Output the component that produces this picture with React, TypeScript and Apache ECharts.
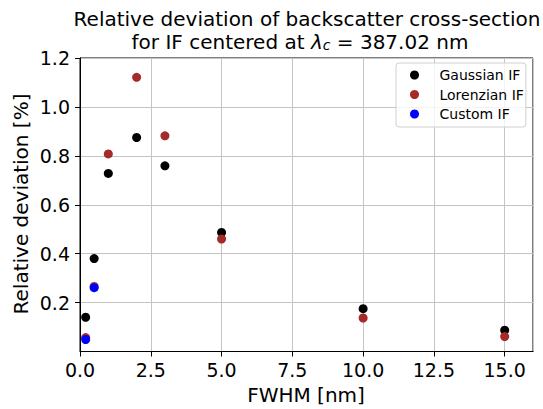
import React, { useEffect, useRef } from "react";
import * as echarts from "echarts";

const FONT = "DejaVu Sans";

const gaussianX = [0.2, 0.5, 1, 2, 3, 5, 10, 15];
const gaussianY = [0.14, 0.38, 0.728, 0.875, 0.759, 0.487, 0.175, 0.087];
const lorenzianX = [0.2, 0.5, 1, 2, 3, 5, 10, 15];
const lorenzianY = [0.057, 0.266, 0.808, 1.121, 0.882, 0.46, 0.137, 0.061];
const customX = [0.2, 0.5];
const customY = [0.049, 0.261];

const seriesNames = ["Gaussian IF", "Lorenzian IF", "Custom IF"];
const seriesColors = ["#000000", "#a52a2a", "#0000ff"];

const titleLine1 = "Relative deviation of backscatter cross-section";
const titleLine2 = "for IF centered at {l|λ}{s|c} = 387.02 nm";
const xName = "FWHM [nm]";
const yName = "Relative deviation [%]";

const pairs = (xs: number[], ys: number[]) => xs.map((x, i) => [x, ys[i]]);

export default function App() {
  const ref = useRef<HTMLDivElement>(null);
  useEffect(() => {
    if (!ref.current) return;
    const chart = echarts.init(ref.current, null, { renderer: "svg" });
    const data = [
      pairs(gaussianX, gaussianY),
      pairs(lorenzianX, lorenzianY),
      pairs(customX, customY),
    ];
    chart.setOption({
      animation: false,
      backgroundColor: "#ffffff",
      grid: {
        left: 80,
        right: 10,
        top: 58,
        bottom: 57.5,
        show: true,
        borderColor: "#000",
        borderWidth: 1,
        backgroundColor: "transparent",
      },
      xAxis: {
        type: "value",
        min: 0,
        max: 16,
        interval: 2.5,
        axisLine: { show: true, onZero: false, lineStyle: { color: "#000", width: 1 } },
        axisTick: { show: true, length: 5, lineStyle: { color: "#000" } },
        axisLabel: {
          showMaxLabel: false,
          color: "#000",
          fontFamily: FONT,
          fontSize: 19,
          margin: 9,
          formatter: (v: number) => v.toFixed(1),
        },
        splitLine: { show: true, lineStyle: { color: "#c4c4c4", width: 1 } },
      },
      yAxis: {
        type: "value",
        min: 0,
        max: 1.2,
        interval: 0.2,
        axisLine: { show: true, onZero: false, lineStyle: { color: "#000", width: 1 } },
        axisTick: { show: true, length: 5, lineStyle: { color: "#000" } },
        axisLabel: {
          showMinLabel: false,
          color: "#000",
          fontFamily: FONT,
          fontSize: 19,
          margin: 10,
          formatter: (v: number) => v.toFixed(1),
        },
        splitLine: { show: true, lineStyle: { color: "#c4c4c4", width: 1 } },
      },
      legend: {
        orient: "vertical",
        left: 396,
        top: 63,
        padding: [5, 2, 6, 14],
        itemWidth: 34,
        itemHeight: 9,
        itemGap: 5.5,
        icon: "circle",
        backgroundColor: "rgba(255,255,255,0.8)",
        borderColor: "#d0d0d0",
        borderWidth: 1,
        borderRadius: 3,
        textStyle: {
          fontFamily: FONT,
          fontSize: 14,
          color: "#000",
          lineHeight: 14,
          padding: [0, 0, 0, 3],
        },
        data: seriesNames,
      },
      series: seriesNames.map((name, i) => ({
        name,
        type: "scatter",
        symbol: "circle",
        symbolSize: 9,
        itemStyle: { color: seriesColors[i], opacity: 1 },
        data: data[i],
        z: 3 + i,
      })),
      graphic: [
        {
          type: "text",
          x: 307,
          y: 19,
          style: {
            text: titleLine1,
            fontFamily: FONT,
            fontSize: 20,
            fill: "#000",
            align: "center",
            verticalAlign: "middle",
          },
        },
        {
          type: "text",
          x: 300,
          y: 42,
          style: {
            text: titleLine2,
            fontFamily: FONT,
            fontSize: 20,
            fill: "#000",
            align: "center",
            verticalAlign: "middle",
            rich: {
              l: { fontFamily: FONT, fontSize: 20, fontStyle: "italic", fill: "#000" },
              s: {
                fontFamily: FONT,
                fontSize: 14,
                fontStyle: "italic",
                fill: "#000",
                verticalAlign: "bottom",
                padding: [6, 0, 0, 0],
              },
            },
          },
        },
        {
          type: "text",
          x: 306,
          y: 395,
          style: {
            text: xName,
            fontFamily: FONT,
            fontSize: 20,
            fill: "#000",
            align: "center",
            verticalAlign: "middle",
          },
        },
        {
          type: "text",
          x: 21,
          y: 204,
          rotation: Math.PI / 2,
          style: {
            text: yName,
            fontFamily: FONT,
            fontSize: 20,
            fill: "#000",
            align: "center",
            verticalAlign: "middle",
          },
        },
      ],
    });
    return () => chart.dispose();
  }, []);
  return <div ref={ref} style={{ width: 543, height: 409, position: "absolute", left: 0, top: 0 }} />;
}
